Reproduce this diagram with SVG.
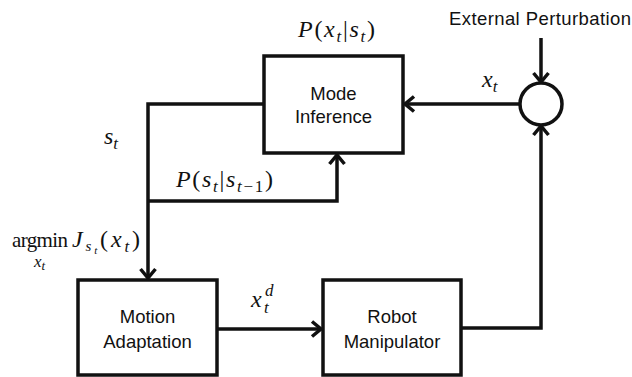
<svg xmlns="http://www.w3.org/2000/svg" width="632" height="377" viewBox="0 0 632 377">
<style>
.box{fill:#fff;stroke:#111;stroke-width:3.5}
.ln{fill:none;stroke:#111;stroke-width:3.5;marker-end:url(#arr)}
.lbl{font-family:"Liberation Sans",Arial,sans-serif;font-size:18.5px;fill:#111;text-anchor:middle}
.m{font-family:"Liberation Serif","Times New Roman",serif;font-size:24px;fill:#111}
.i{font-style:italic}
.s{font-size:17px}
</style>
<defs>
<marker id="arr" markerUnits="userSpaceOnUse" markerWidth="30" markerHeight="30" orient="auto" overflow="visible" refX="0" refY="0">
<path d="M-9,-7.5 L0,0 L-9,7.5" fill="none" stroke="#111" stroke-width="3.5"/>
</marker>
</defs>
<rect width="632" height="377" fill="#fff"/>
<g id="connectors">
<path class="ln" d="M541,38 V82"/>
<path class="ln" d="M461,328 H541 V126"/>
<path class="ln" d="M520,104 H405"/>
<path class="ln" d="M264,104 H148 V278"/>
<path class="ln" d="M148,201 H337 V155"/>
<path class="ln" d="M217,329 H321"/>
</g>
<g id="mode-inference">
<rect class="box" x="264" y="56" width="139" height="97"/>
<text class="lbl" x="333.5" y="100">Mode</text>
<text class="lbl" x="333.5" y="123">Inference</text>
</g>
<g id="motion-adaptation">
<rect class="box" x="78" y="280" width="139" height="95"/>
<text class="lbl" x="147.5" y="323">Motion</text>
<text class="lbl" x="147.5" y="348">Adaptation</text>
</g>
<g id="robot-manipulator">
<rect class="box" x="323" y="280" width="138" height="95"/>
<text class="lbl" x="392" y="323">Robot</text>
<text class="lbl" x="392" y="348">Manipulator</text>
</g>
<g id="sum">
<circle cx="541" cy="104" r="21" fill="#fff" stroke="#111" stroke-width="3.5"/>
</g>
<g id="external-perturbation">
<text class="lbl" x="540" y="25" textLength="182">External Perturbation</text>
</g>
<g id="labels">
<text class="m" x="298" y="37" textLength="77"><tspan class="i">P</tspan>(<tspan class="i">x</tspan><tspan class="i s" dy="5">t</tspan><tspan dy="-5">|</tspan><tspan class="i">s</tspan><tspan class="i s" dy="5">t</tspan><tspan dy="-5">)</tspan></text>
<text class="m" x="482" y="87"><tspan class="i">x</tspan><tspan class="i s" dy="5">t</tspan></text>
<text class="m" x="104" y="144"><tspan class="i">s</tspan><tspan class="i s" dy="5">t</tspan></text>
<text class="m" x="176" y="187" textLength="97"><tspan class="i">P</tspan>(<tspan class="i">s</tspan><tspan class="i s" dy="5">t</tspan><tspan dy="-5">|</tspan><tspan class="i">s</tspan><tspan class="i s" dy="5">t</tspan><tspan class="s">−1</tspan><tspan dy="-5">)</tspan></text>
<text class="m" x="12" y="247" style="font-size:21px" textLength="56">argmin</text>
<text class="m" x="34" y="267" style="font-size:17px"><tspan class="i">x</tspan><tspan class="i" style="font-size:13px" dy="3">t</tspan></text>
<text class="m" x="72" y="247" textLength="68"><tspan class="i">J</tspan><tspan class="i" style="font-size:15px" dy="4">s</tspan><tspan class="i" style="font-size:11px" dy="3">t</tspan><tspan dy="-7">(</tspan><tspan class="i">x</tspan><tspan class="i s" dy="5">t</tspan><tspan dy="-5">)</tspan></text>
<text class="m i" x="251" y="307">x</text>
<text class="m i s" x="264" y="313">t</text>
<text class="m i s" x="265" y="296">d</text>
</g>
</svg>
